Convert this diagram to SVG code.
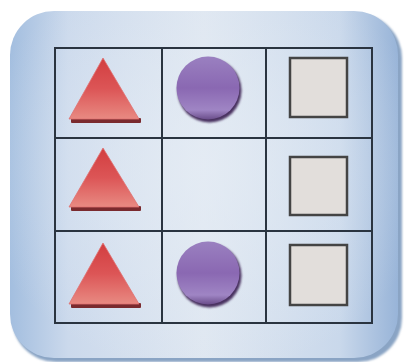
<svg xmlns="http://www.w3.org/2000/svg" width="404" height="362" viewBox="0 0 404 362">
<defs>
<linearGradient id="bgH" x1="0" y1="0" x2="1" y2="0">
<stop offset="0" stop-color="#a3bedf"/>
<stop offset="0.15" stop-color="#cbd9ec"/>
<stop offset="0.5" stop-color="#dfe7f1"/>
<stop offset="0.85" stop-color="#c9d8eb"/>
<stop offset="1" stop-color="#98b4d8"/>
</linearGradient>
<radialGradient id="bgR" cx="0.5" cy="0.45" r="0.6">
<stop offset="0" stop-color="#e6edf5" stop-opacity="0.7"/>
<stop offset="1" stop-color="#e6edf5" stop-opacity="0"/>
</radialGradient>
<linearGradient id="tri" x1="0" y1="0" x2="0" y2="1">
<stop offset="0" stop-color="#d23e40"/>
<stop offset="0.5" stop-color="#dc5556"/>
<stop offset="1" stop-color="#e88a82"/>
</linearGradient>
<linearGradient id="circ" x1="0" y1="0" x2="0" y2="1">
<stop offset="0" stop-color="#9a80c0"/>
<stop offset="0.5" stop-color="#8a68b2"/>
<stop offset="0.85" stop-color="#9f85c4"/>
<stop offset="1" stop-color="#6a4d8a"/>
</linearGradient>
<filter id="sh" x="-10%" y="-10%" width="130%" height="130%">
<feGaussianBlur stdDeviation="1"/>
</filter>
</defs>
<style>
.grid{fill:none;stroke:#2a3440;stroke-width:2}
.sq{fill:#e2dedb;stroke:#444;stroke-width:2.5}
.base{fill:#7a2a2e}
.tri{fill:url(#tri);stroke:#e07070;stroke-width:0.8}
.circ{fill:url(#circ)}
.cs{fill:#4a3260}
</style>
<rect x="0" y="0" width="404" height="362" fill="#ffffff"/>
<rect x="12" y="14" width="390" height="348" rx="44" fill="#8aa4c4" filter="url(#sh)"/>
<rect x="10" y="11" width="388" height="347" rx="44" fill="url(#bgH)"/>
<rect x="10" y="11" width="388" height="347" rx="44" fill="url(#bgR)"/>
<g id="connectors">
<rect class="grid" x="55" y="48" width="317" height="275"/>
<line class="grid" x1="162" y1="48" x2="162" y2="323"/>
<line class="grid" x1="266" y1="48" x2="266" y2="323"/>
<line class="grid" x1="55" y1="138" x2="372" y2="138"/>
<line class="grid" x1="55" y1="231" x2="372" y2="231"/>
</g>
<g id="tri1"><rect class="base" x="71" y="118" width="70" height="5" rx="1"/><polygon class="tri" points="103,58 139,119 69,119"/></g>
<g id="tri2"><rect class="base" x="71" y="206" width="70" height="5" rx="1"/><polygon class="tri" points="103,148 139,207 69,207"/></g>
<g id="tri3"><rect class="base" x="71" y="303" width="70" height="5" rx="1"/><polygon class="tri" points="103,243 139,304 69,304"/></g>
<g id="circ1"><circle class="cs" cx="209.5" cy="90.5" r="32" filter="url(#sh)"/><circle class="circ" cx="208" cy="88" r="31.5"/></g>
<g id="circ2"><circle class="cs" cx="209.5" cy="275.5" r="32" filter="url(#sh)"/><circle class="circ" cx="208" cy="273" r="31.5"/></g>
<g id="sq1"><rect class="sq" x="290" y="58" width="57" height="59"/></g>
<g id="sq2"><rect class="sq" x="290" y="157" width="57" height="58"/></g>
<g id="sq3"><rect class="sq" x="290" y="245" width="57" height="60"/></g>
</svg>
